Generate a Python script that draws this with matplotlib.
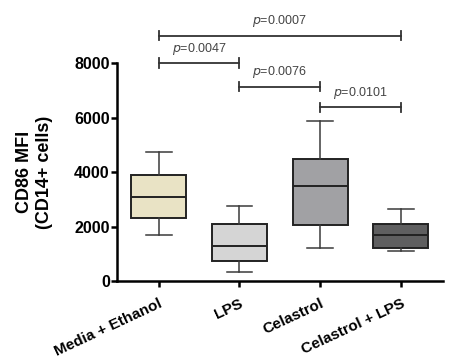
import matplotlib
matplotlib.use('Agg')
import matplotlib.pyplot as plt

# ── data ──
groups = ['Media + Ethanol', 'LPS', 'Celastrol', 'Celastrol + LPS']
whisker_low = [1700, 330, 1200, 1110]
q1 = [2310, 720, 2070, 1200]
median = [3080, 1290, 3480, 1690]
q3 = [3900, 2110, 4460, 2090]
whisker_high = [4740, 2740, 5860, 2630]
box_colors = ['#e9e3c5', '#d5d5d5', '#a1a1a4', '#5f5f60']

# comparisons: (group a, group b, bracket height, label)
comp_a = [0, 0, 1, 2]
comp_b = [3, 1, 2, 3]
comp_y = [9000, 8000, 7130, 6380]
comp_p = ['0.0007', '0.0047', '0.0076', '0.0101']

plt.rcParams['font.family'] = ['Liberation Sans', 'DejaVu Sans']

fig = plt.figure(figsize=(4.51, 3.58), dpi=100)
ax = fig.add_axes([0.259, 0.215, 0.723, 0.609])

stats = []
for i in range(len(groups)):
    stats.append(dict(whislo=whisker_low[i], q1=q1[i], med=median[i],
                      q3=q3[i], whishi=whisker_high[i], fliers=[]))

bp = ax.bxp(stats, positions=range(len(groups)), widths=0.68, patch_artist=True,
            showfliers=False,
            boxprops=dict(linewidth=1.4, edgecolor='#222222'),
            medianprops=dict(color='#222222', linewidth=1.4),
            whiskerprops=dict(color='#3a3a3a', linewidth=1.1),
            capprops=dict(color='#3a3a3a', linewidth=1.1),
            capwidths=0.32)
for patch, c in zip(bp['boxes'], box_colors):
    patch.set_facecolor(c)

ax.set_xlim(-0.52, 3.52)
ax.set_ylim(0, 8000)
ax.set_yticks([0, 2000, 4000, 6000, 8000])
ax.set_xticks(range(len(groups)))
ax.set_xticklabels(groups, rotation=25, ha='right', rotation_mode='anchor',
                   fontsize=11, fontweight='bold')
for lab in ax.get_yticklabels():
    lab.set_fontweight('bold')
    lab.set_fontsize(11.5)

ax.spines['top'].set_visible(False)
ax.spines['right'].set_visible(False)
ax.spines['left'].set_linewidth(1.8)
ax.spines['bottom'].set_linewidth(1.8)
ax.tick_params(axis='both', width=1.8, length=4, pad=1)
ax.tick_params(axis='x', pad=7)

ax.set_ylabel('CD86 MFI\n(CD14+ cells)', fontsize=13, fontweight='bold',
              labelpad=15, linespacing=1.25)

# significance brackets
tick_h = 170
for a, b, y, p in zip(comp_a, comp_b, comp_y, comp_p):
    ax.plot([a, b], [y, y], color='#333333', lw=1.3, clip_on=False)
    ax.plot([a, a], [y - tick_h, y + tick_h], color='#333333', lw=1.3, clip_on=False)
    ax.plot([b, b], [y - tick_h, y + tick_h], color='#333333', lw=1.3, clip_on=False)
    ax.text((a + b) / 2, y + 230, r'$\mathit{p}$=' + p, ha='center', va='bottom',
            fontsize=9, color='#444444', clip_on=False)

plt.savefig('out.png', dpi=100)
plt.close()
